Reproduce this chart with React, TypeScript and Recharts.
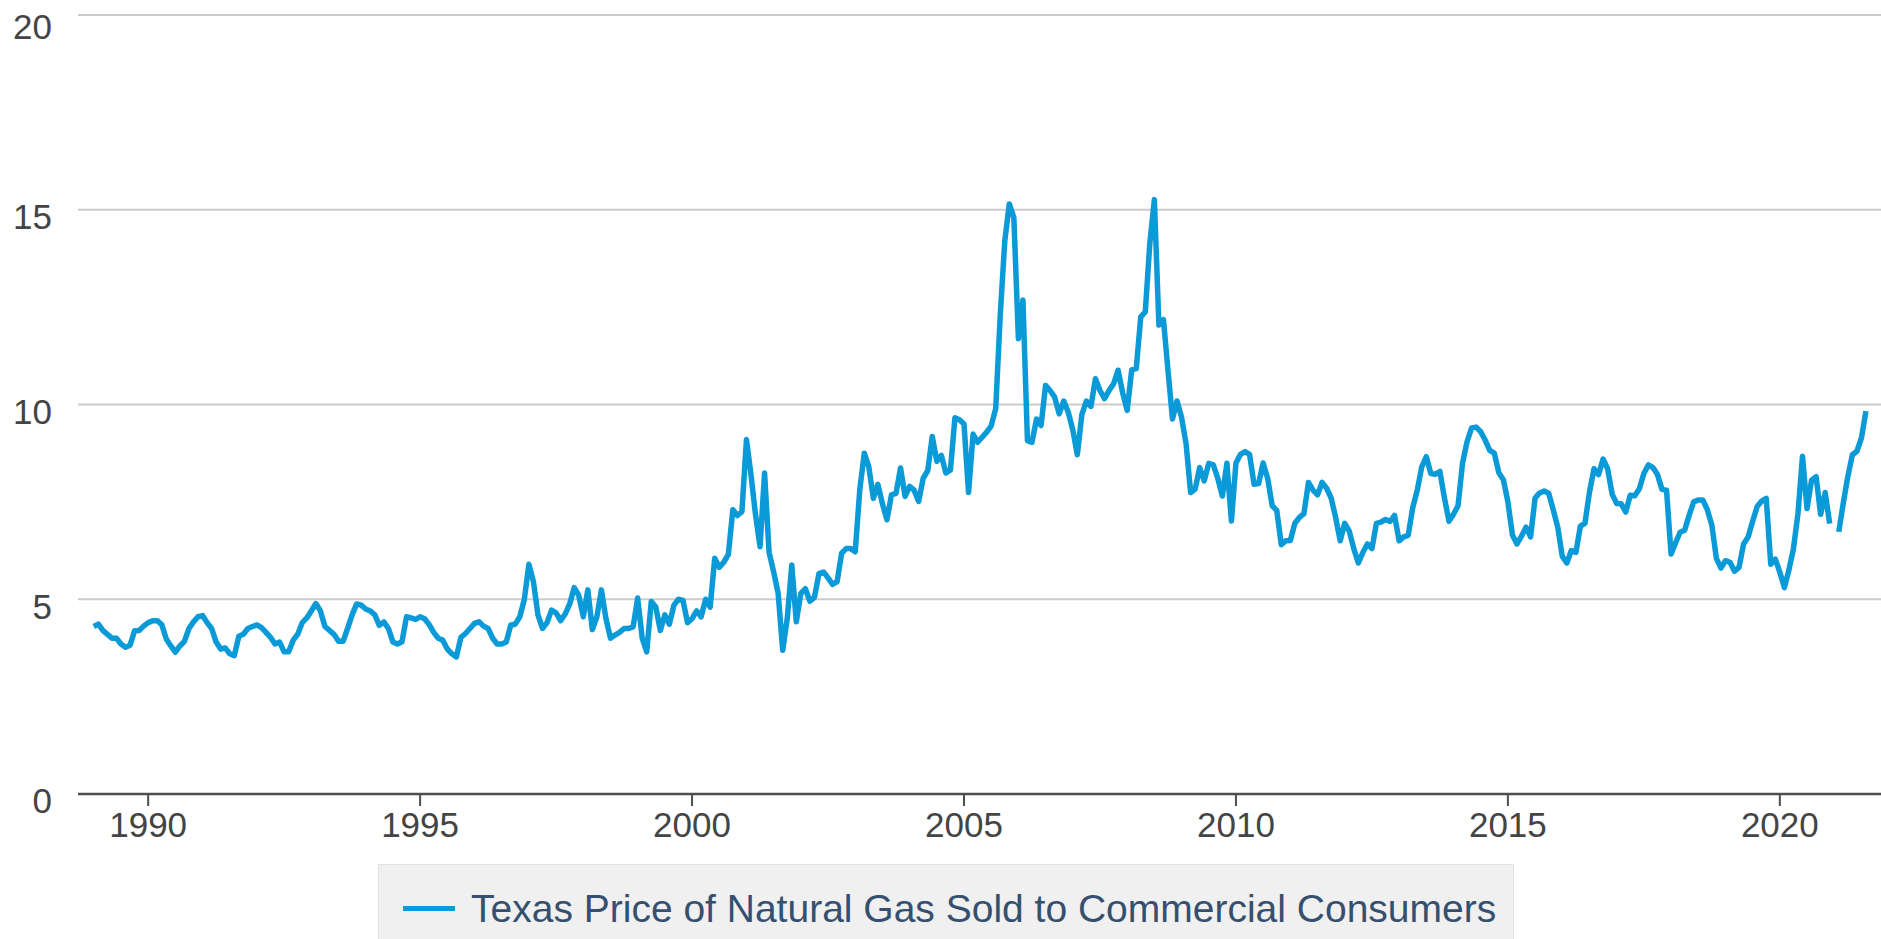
import { LineChart, Line, XAxis, YAxis, CartesianGrid, Legend } from "recharts";

const START_YEAR = 1989;
const SERIES_NAME = "Texas Price of Natural Gas Sold to Commercial Consumers";

// monthly price, dollars per thousand cubic feet, one row per year (Jan..Dec)
const monthlyPrice: (number | null)[] = [
    4.3, 4.36, 4.2, 4.1, 4.0, 4.0, 3.85, 3.77, 3.82, 4.19, 4.2, 4.31, // 1989
    4.4, 4.45, 4.45, 4.35, 3.98, 3.8, 3.64, 3.8, 3.92, 4.25, 4.42, 4.55, // 1990
    4.58, 4.4, 4.25, 3.9, 3.72, 3.75, 3.6, 3.55, 4.05, 4.1, 4.25, 4.3, // 1991
    4.34, 4.27, 4.15, 4.02, 3.85, 3.9, 3.65, 3.65, 3.95, 4.1, 4.4, 4.52, // 1992
    4.7, 4.89, 4.7, 4.3, 4.2, 4.1, 3.92, 3.92, 4.25, 4.6, 4.88, 4.85, // 1993
    4.75, 4.7, 4.6, 4.33, 4.42, 4.25, 3.9, 3.85, 3.91, 4.55, 4.52, 4.48, // 1994
    4.55, 4.5, 4.35, 4.15, 4.0, 3.95, 3.72, 3.6, 3.52, 4.02, 4.12, 4.25, // 1995
    4.38, 4.42, 4.31, 4.25, 4.0, 3.85, 3.85, 3.9, 4.34, 4.36, 4.55, 5.0, // 1996
    5.9, 5.45, 4.6, 4.25, 4.4, 4.72, 4.65, 4.45, 4.62, 4.88, 5.3, 5.1, // 1997
    4.55, 5.24, 4.22, 4.55, 5.24, 4.5, 4.0, 4.08, 4.15, 4.25, 4.25, 4.29, // 1998
    5.03, 4.0, 3.65, 4.94, 4.8, 4.2, 4.6, 4.36, 4.85, 5.0, 4.97, 4.4, // 1999
    4.5, 4.7, 4.55, 5.0, 4.8, 6.05, 5.82, 5.95, 6.15, 7.3, 7.15, 7.25, // 2000
    9.1, 8.2, 7.17, 6.35, 8.24, 6.2, 5.7, 5.15, 3.69, 4.5, 5.88, 4.42, // 2001
    5.15, 5.27, 4.95, 5.05, 5.66, 5.7, 5.55, 5.38, 5.45, 6.18, 6.3, 6.3, // 2002
    6.22, 7.8, 8.75, 8.4, 7.59, 7.95, 7.45, 7.04, 7.68, 7.72, 8.37, 7.64, // 2003
    7.9, 7.8, 7.51, 8.11, 8.3, 9.18, 8.54, 8.69, 8.24, 8.32, 9.66, 9.61, // 2004
    9.5, 7.74, 9.24, 9.03, 9.16, 9.29, 9.45, 9.9, 12.3, 14.2, 15.15, 14.8, // 2005
    11.69, 12.68, 9.07, 9.03, 9.63, 9.46, 10.49, 10.36, 10.19, 9.76, 10.09, 9.8, // 2006
    9.35, 8.71, 9.74, 10.09, 9.95, 10.66, 10.36, 10.15, 10.36, 10.53, 10.88, 10.3, // 2007
    9.85, 10.89, 10.92, 12.25, 12.38, 14.14, 15.26, 12.04, 12.18, 10.88, 9.63, 10.09, // 2008
    9.67, 8.99, 7.74, 7.83, 8.38, 8.04, 8.49, 8.45, 8.1, 7.65, 8.49, 7.01, // 2009
    8.5, 8.72, 8.79, 8.72, 7.95, 7.97, 8.5, 8.1, 7.4, 7.28, 6.4, 6.5, // 2010
    6.51, 6.95, 7.1, 7.2, 8.0, 7.8, 7.68, 8.0, 7.85, 7.6, 7.1, 6.5, // 2011
    6.95, 6.75, 6.3, 5.93, 6.2, 6.42, 6.3, 6.95, 6.98, 7.05, 7.0, 7.15, // 2012
    6.5, 6.6, 6.64, 7.35, 7.8, 8.4, 8.66, 8.23, 8.21, 8.28, 7.6, 7.0, // 2013
    7.18, 7.4, 8.5, 9.05, 9.4, 9.42, 9.3, 9.08, 8.82, 8.75, 8.25, 8.07, // 2014
    7.5, 6.65, 6.42, 6.62, 6.85, 6.6, 7.6, 7.73, 7.78, 7.72, 7.3, 6.85, // 2015
    6.1, 5.93, 6.25, 6.2, 6.88, 6.95, 7.75, 8.35, 8.2, 8.6, 8.35, 7.7, // 2016
    7.46, 7.45, 7.24, 7.67, 7.66, 7.84, 8.23, 8.45, 8.38, 8.2, 7.82, 7.8, // 2017
    6.16, 6.45, 6.72, 6.77, 7.16, 7.5, 7.55, 7.55, 7.3, 6.9, 6.05, 5.8, // 2018
    5.99, 5.95, 5.72, 5.82, 6.42, 6.6, 7.0, 7.38, 7.52, 7.59, 5.9, 6.03, // 2019
    5.69, 5.3, 5.75, 6.3, 7.2, 8.67, 7.33, 8.06, 8.15, 7.18, 7.74, 6.94, // 2020
    null, 6.73, 7.47, 8.15, 8.71, 8.8, 9.14, 9.83, // 2021
];

const yearTicks = [1990, 1995, 2000, 2005, 2010, 2015, 2020];
const priceTicks = [0, 5, 10, 15, 20];

const data = monthlyPrice.map((price, i) => ({
    t: START_YEAR + i / 12,
    price,
}));

const FONT = '"Liberation Sans", Arial, Helvetica, sans-serif';
const LINE_COLOR = "#0a9ad7";

function LegendBox() {
    return (
        <div
            style={{
                boxSizing: "border-box",
                width: 1136,
                height: 88,
                background: "#f0f0f0",
                border: "1px solid #e2e2e2",
                borderBottom: "none",
                display: "flex",
                alignItems: "center",
                paddingLeft: 24,
                fontFamily: FONT,
            }}
        >
            <span
                style={{
                    display: "inline-block",
                    width: 52,
                    height: 5,
                    background: LINE_COLOR,
                    marginRight: 16,
                }}
            />
            <span style={{ fontSize: 39, color: "#35506f", whiteSpace: "nowrap" }}>
                {SERIES_NAME}
            </span>
        </div>
    );
}

export default function App() {
    return (
        <div style={{ position: "absolute", left: 0, top: 0, background: "#fff" }}>
            <LineChart
                width={1881}
                height={939}
                data={data}
                margin={{ top: 15, right: 0, left: 0, bottom: 0 }}
                style={{ fontFamily: FONT }}
            >
                <CartesianGrid
                    vertical={false}
                    stroke="#cccccc"
                    strokeWidth={2}
                />
                <XAxis
                    dataKey="t"
                    type="number"
                    domain={[1988.71, 2021.86]}
                    allowDataOverflow
                    ticks={yearTicks}
                    height={65}
                    axisLine={{ stroke: "#4d4d4d", strokeWidth: 2.5 }}
                    tickLine={{ stroke: "#4d4d4d", strokeWidth: 2 }}
                    tickSize={12}
                    tickMargin={6}
                    tick={{ fontSize: 35, fill: "#444444" }}
                />
                <YAxis
                    domain={[0, 20]}
                    ticks={priceTicks}
                    width={78}
                    axisLine={false}
                    tickLine={false}
                    tickSize={0}
                    tickMargin={26}
                    tick={{ fontSize: 35, fill: "#444444", dy: 7 }}
                />
                <Legend
                    verticalAlign="bottom"
                    content={() => <LegendBox />}
                    wrapperStyle={{ left: 378, top: 864, width: 1136, height: 80 }}
                />
                <Line
                    type="linear"
                    dataKey="price"
                    name={SERIES_NAME}
                    stroke={LINE_COLOR}
                    strokeWidth={5.5}
                    strokeLinejoin="round"
                    dot={false}
                    activeDot={false}
                    connectNulls={false}
                    isAnimationActive={false}
                />
            </LineChart>
        </div>
    );
}
